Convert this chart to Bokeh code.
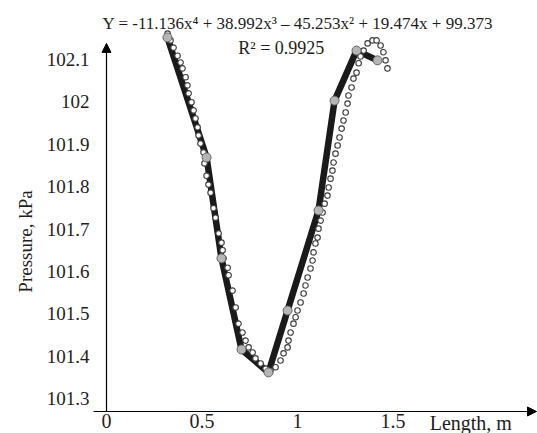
from bokeh.plotting import figure
from bokeh.models import Range1d, Arrow, NormalHead, Label
from bokeh.core.properties import value
from bokeh.embed import file_html
from bokeh.resources import INLINE
import math

# measured pressure profile
length_m = [0.319, 0.524, 0.602, 0.707, 0.848, 0.948, 1.110, 1.194, 1.309, 1.419]
pressure_kpa = [102.152, 101.869, 101.631, 101.416, 101.362, 101.508, 101.744, 102.003, 102.121, 102.098]

# dotted (fitted) series
fit_x = [0.320, 0.335, 0.351, 0.372, 0.388, 0.398, 0.414, 0.424, 0.430, 0.445, 0.456, 0.466,
         0.477, 0.482, 0.492, 0.508, 0.513, 0.524, 0.534, 0.545, 0.560, 0.571, 0.587, 0.602,
         0.608, 0.613, 0.634, 0.639, 0.660, 0.676, 0.691, 0.712, 0.728, 0.744, 0.765, 0.780,
         0.807, 0.833, 0.859, 0.885, 0.911, 0.927, 0.948, 0.953, 0.964, 0.979, 0.990, 1.000,
         1.016, 1.032, 1.042, 1.053, 1.068, 1.079, 1.084, 1.094, 1.105, 1.110, 1.121, 1.131,
         1.142, 1.157, 1.163, 1.173, 1.183, 1.189, 1.199, 1.210, 1.220, 1.231, 1.241, 1.252,
         1.262, 1.267, 1.283, 1.293, 1.309, 1.320, 1.330, 1.346, 1.367, 1.393, 1.414, 1.435,
         1.450, 1.461, 1.471]
fit_y = [102.161, 102.145, 102.128, 102.109, 102.093, 102.079, 102.058, 102.039, 102.020, 101.999,
         101.980, 101.961, 101.940, 101.921, 101.902, 101.881, 101.855, 101.826, 101.805, 101.786,
         101.749, 101.727, 101.690, 101.668, 101.650, 101.631, 101.609, 101.591, 101.555, 101.515,
         101.477, 101.456, 101.437, 101.421, 101.409, 101.395, 101.383, 101.371, 101.366, 101.374,
         101.390, 101.407, 101.421, 101.437, 101.456, 101.477, 101.492, 101.508, 101.527, 101.548,
         101.567, 101.586, 101.607, 101.626, 101.645, 101.666, 101.680, 101.701, 101.720, 101.739,
         101.760, 101.779, 101.798, 101.819, 101.838, 101.857, 101.878, 101.897, 101.916, 101.937,
         101.956, 101.975, 101.996, 102.015, 102.034, 102.055, 102.069, 102.091, 102.107, 102.121,
         102.138, 102.145, 102.145, 102.133, 102.117, 102.098, 102.079]

x_ticks = [0, 0.5, 1, 1.5]
x_tick_labels = ["0", "0.5", "1", "1.5"]
y_ticks = [101.3, 101.4, 101.5, 101.6, 101.7, 101.8, 101.9, 102.0, 102.1]
y_tick_labels = ["101.3", "101.4", "101.5", "101.6", "101.7", "101.8", "101.9", "102", "102.1"]

equation = "Y = -11.136x\u2074 + 38.992x\u00b3 \u2013 45.253x\u00b2 + 19.474x + 99.373"
r2_text = "R\u00b2 = 0.9925"
x_title = "Length, m"
y_title = "Pressure, kPa"

FONT = "'Liberation Serif', 'Times New Roman', serif"
TXT = "#1e1e1e"
# data window of the whole canvas (axes drawn inside it)
X0, X1 = -0.55497, 2.25654
Y0, Y1 = 101.21792, 102.23915
X_AXIS_Y = 101.26981       # where the horizontal axis crosses
X_LABEL_Y = 101.2628       # top of the x tick labels
X_TITLE_Y = 101.2675       # top of the x axis title
Y_LABEL_X = -0.089         # right edge of the y tick labels

p = figure(width=537, height=433, output_backend="svg", toolbar_location=None,
           x_range=Range1d(X0, X1), y_range=Range1d(Y0, Y1),
           x_axis_location=None, y_axis_location=None,
           min_border_left=0, min_border_right=0, min_border_top=0, min_border_bottom=0)
p.outline_line_color = None
p.grid.visible = False
p.background_fill_color = "white"

# axes with arrow heads
p.add_layout(Arrow(end=NormalHead(size=9, fill_color="black", line_color="black"),
                   x_start=0, y_start=X_AXIS_Y, x_end=0, y_end=102.138,
                   line_color="black", line_width=1.2))
p.add_layout(Arrow(end=NormalHead(size=9, fill_color="black", line_color="black"),
                   x_start=-0.068, y_start=X_AXIS_Y, x_end=2.2513, y_end=X_AXIS_Y,
                   line_color="black", line_width=1.2))

# tick labels
p.text(x=[Y_LABEL_X] * len(y_ticks), y=y_ticks, text=y_tick_labels,
       text_font=value(FONT), text_font_size="19px", text_color=TXT,
       text_align="right", text_baseline="middle")
p.text(x=x_ticks, y=[X_LABEL_Y] * len(x_ticks), text=x_tick_labels,
       text_font=value(FONT), text_font_size="20px", text_color=TXT,
       text_align="center", text_baseline="top")

# data
p.line(length_m, pressure_kpa, line_color="#1a1a1a", line_width=6.5, line_join="round", line_cap="round")
p.scatter(fit_x, fit_y, marker="circle", size=5.5, fill_color="white", line_color="#3a3a3a", line_width=1.1)
p.scatter(length_m, pressure_kpa, marker="circle", size=9, fill_color="#b5b5b5", line_color="#666666", line_width=1)

# texts
p.add_layout(Label(x=-0.021, y=102.185, text=equation, text_font=FONT, text_font_size="17px",
                   text_color=TXT, text_baseline="alphabetic", text_align="left"))
p.add_layout(Label(x=0.690, y=102.128, text=r2_text, text_font=FONT, text_font_size="18px",
                   text_color=TXT, text_baseline="alphabetic", text_align="left"))
p.add_layout(Label(x=1.692, y=X_TITLE_Y, text=x_title, text_font=FONT, text_font_size="20px",
                   text_color=TXT, text_baseline="top", text_align="left"))
p.add_layout(Label(x=-0.424, y=101.6708, text=y_title, text_font=FONT, text_font_size="19px",
                   text_color=TXT, text_baseline="middle", text_align="center", angle=math.pi / 2))

open("out.html", "w").write(file_html(p, INLINE))
